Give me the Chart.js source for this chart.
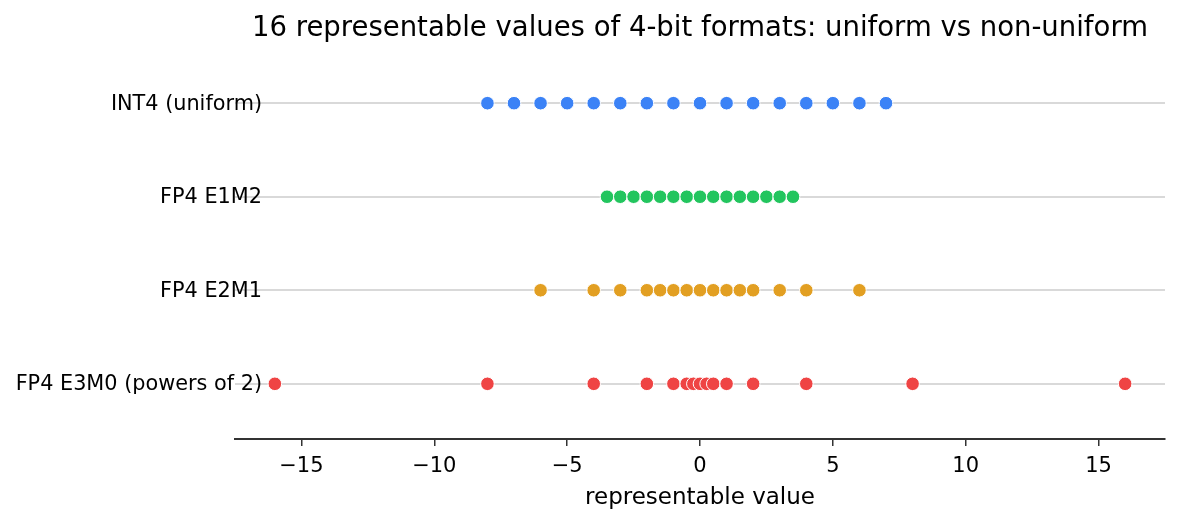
<!DOCTYPE html>
<html>
<head>
<meta charset="utf-8">
<script src="https://cdn.jsdelivr.net/npm/chart.js@4.4.1/dist/chart.umd.min.js"></script>
<style>
  html, body { margin: 0; padding: 0; background: #fff; }
  #wrap { width: 1180px; height: 524px; }
</style>
</head>
<body>
<div id="wrap"><canvas id="strip"></canvas></div>
<script>
// row labels, top to bottom
const formats = ['INT4 (uniform)', 'FP4 E1M2', 'FP4 E2M1', 'FP4 E3M0 (powers of 2)'];
const rowPos = [3, 2, 1, 0];
const colors = ['#3b82f6', '#22c55e', '#e29f22', '#ef4444'];

// values
const int4 = [-8, -7, -6, -5, -4, -3, -2, -1, 0, 1, 2, 3, 4, 5, 6, 7];
const e1m2 = [-3.5, -3, -2.5, -2, -1.5, -1, -0.5, 0, 0.5, 1, 1.5, 2, 2.5, 3, 3.5];
const e2m1 = [-6, -4, -3, -2, -1.5, -1, -0.5, 0, 0.5, 1, 1.5, 2, 3, 4, 6];
const e3m0 = [-16, -8, -4, -2, -1, -0.5, -0.25, 0, 0.25, 0.5, 1, 2, 4, 8, 16];
const seriesValues = [int4, e1m2, e2m1, e3m0];

const xTicks = [-15, -10, -5, 0, 5, 10, 15];

const datasets = seriesValues.map(function (vals, i) {
    return {
        label: formats[i],
        data: vals.map(function (v) { return { x: v, y: rowPos[i] }; }),
        backgroundColor: colors[i],
        borderColor: '#ffffff',
        borderWidth: 1,
        pointRadius: 6.8,
        pointHoverRadius: 6.8
    };
});

// row names sit just inside the plot, right aligned, on top of the grid lines
const rowLabels = {
    id: 'rowLabels',
    afterDraw(chart) {
        const ctx = chart.ctx;
        const y = chart.scales.y;
        ctx.save();
        ctx.font = '20.8px "DejaVu Sans"';
        ctx.fillStyle = '#000';
        ctx.textAlign = 'right';
        ctx.textBaseline = 'middle';
        formats.forEach(function (name, i) {
            ctx.fillText(name, chart.chartArea.left + 27, y.getPixelForValue(rowPos[i]) + 1);
        });
        ctx.restore();
    }
};

new Chart(document.getElementById('strip'), {
    type: 'scatter',
    data: { datasets: datasets },
    plugins: [rowLabels],
    options: {
        responsive: true,
        maintainAspectRatio: false,
        animation: false,
        layout: { padding: { left: 235, right: 15, top: 0, bottom: 0 } },
        plugins: {
            legend: { display: false },
            tooltip: { enabled: false },
            title: {
                display: true,
                fullSize: false,
                text: '16 representable values of 4-bit formats: uniform vs non-uniform',
                color: '#000',
                font: { family: 'DejaVu Sans', size: 27.5, weight: 'normal' },
                padding: { top: 12, bottom: 3 }
            }
        },
        scales: {
            x: {
                type: 'linear',
                min: -17.5,
                max: 17.5,
                afterBuildTicks(scale) { scale.ticks = xTicks.map(function (v) { return { value: v }; }); },
                afterFit(scale) { scale.height = 85; },
                grid: { display: true, drawOnChartArea: false, drawTicks: true, tickLength: 7, color: '#333', lineWidth: 1.5 },
                border: { display: true, color: '#333', width: 2 },
                ticks: {
                    color: '#000',
                    padding: 8,
                    font: { family: 'DejaVu Sans', size: 21 },
                    callback: function (v) { return v < 0 ? '\u2212' + Math.abs(v) : String(v); }
                },
                title: {
                    display: true,
                    text: 'representable value',
                    color: '#000',
                    font: { family: 'DejaVu Sans', size: 23 },
                    padding: { top: 0, bottom: 12 }
                }
            },
            y: {
                type: 'linear',
                min: -0.59,
                max: 3.59,
                afterBuildTicks(scale) { scale.ticks = rowPos.map(function (v) { return { value: v }; }); },
                afterFit(scale) { scale.width = 0; },
                grid: { display: true, drawTicks: false, color: '#d9d9d9', lineWidth: 2 },
                border: { display: false },
                ticks: { display: false }
            }
        }
    }
});
</script>
</body>
</html>
